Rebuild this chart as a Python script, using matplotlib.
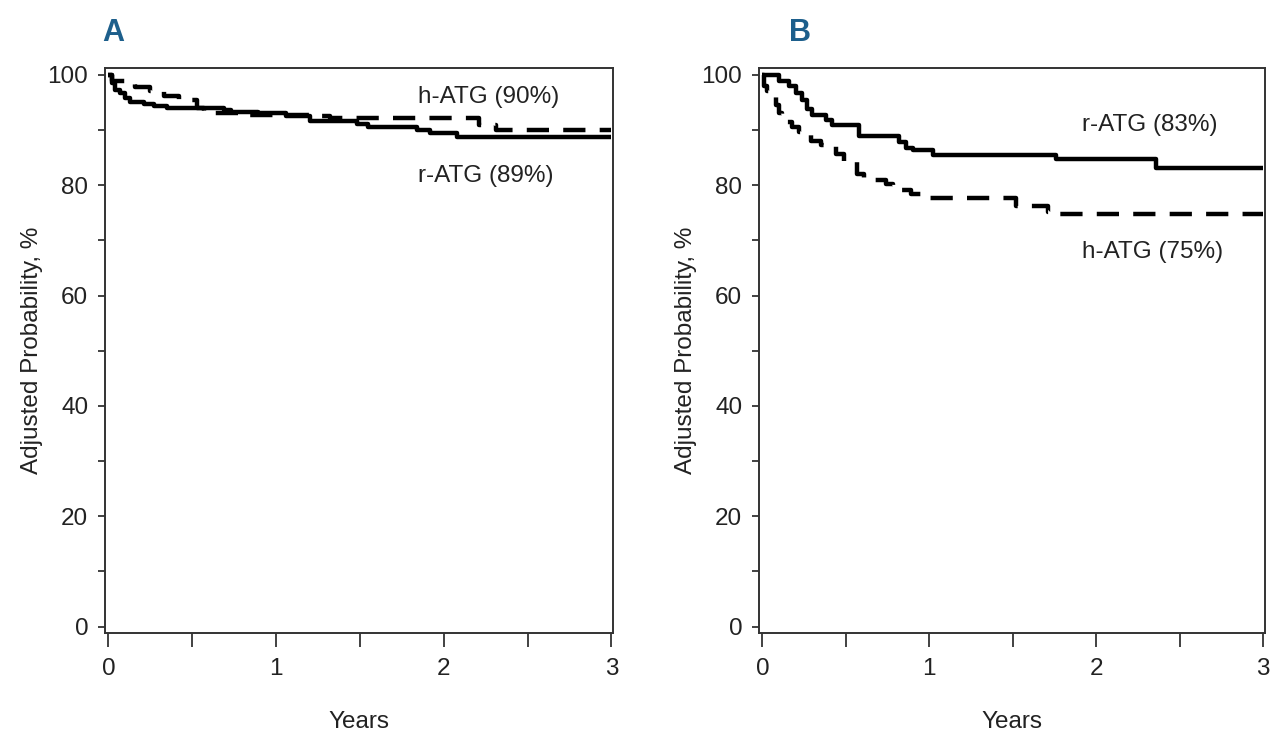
import numpy as np
import matplotlib
matplotlib.use("Agg")
import matplotlib.pyplot as plt
from matplotlib.ticker import MultipleLocator

plt.rcParams['font.family'] = ['Liberation Sans', 'DejaVu Sans']

# panel A (step levels: value holds from each time on)
rA_t = [0, 0.02, 0.04, 0.07, 0.10, 0.13, 0.21, 0.27, 0.35, 0.69, 0.73, 0.89, 1.06, 1.20, 1.48, 1.55, 1.84, 1.92, 2.08, 3.0]
rA_s = [100, 98.5, 97.3, 96.7, 95.8, 95.0, 94.7, 94.4, 94.0, 93.7, 93.2, 93.1, 92.5, 91.6, 91.1, 90.6, 90.0, 89.5, 88.8, 88.8]
hA_t = [0, 0.02, 0.10, 0.16, 0.25, 0.33, 0.42, 0.53, 0.57, 0.80, 1.20, 1.32, 2.21, 2.31, 3.0]
hA_s = [100, 98.8, 98.3, 97.8, 97.0, 96.1, 95.5, 94.0, 93.0, 92.8, 92.5, 92.2, 90.9, 90.0, 90.0]

# panel B
rB_t = [0, 0.10, 0.16, 0.20, 0.24, 0.27, 0.30, 0.38, 0.42, 0.58, 0.82, 0.86, 0.90, 1.02, 1.76, 2.36, 3.0]
rB_s = [100, 98.8, 97.9, 96.7, 95.5, 93.9, 92.7, 91.8, 90.9, 88.9, 87.9, 86.8, 86.4, 85.5, 84.7, 83.2, 83.2]
hB_t = [0, 0.01, 0.03, 0.05, 0.08, 0.10, 0.12, 0.18, 0.22, 0.29, 0.35, 0.44, 0.49, 0.57, 0.61, 0.74, 0.78, 0.89, 0.95, 1.52, 1.71, 1.77, 3.0]
hB_s = [100, 98.0, 97.0, 96.0, 94.5, 93.0, 91.5, 90.5, 89.7, 88.0, 87.2, 85.6, 84.2, 82.0, 81.0, 80.2, 79.2, 78.4, 77.7, 76.3, 75.2, 74.7, 74.7]

panels = [
    ("A", -0.005, rA_t, rA_s, hA_t, hA_s,
     [("h-ATG (90%)", 1.845, 96.0), ("r-ATG (89%)", 1.845, 81.7)]),
    ("B", 0.06, rB_t, rB_s, hB_t, hB_s,
     [("r-ATG (83%)", 1.918, 90.9), ("h-ATG (75%)", 1.918, 67.9)]),
]
boxes = [[0.082, 0.149, 0.397, 0.760], [0.593, 0.149, 0.395, 0.760]]

fig = plt.figure(figsize=(12.8, 7.44), dpi=100)
txt = '#222222'
fs = 17.5

for (letter, lx, rt, rs, ht, hs, notes), box in zip(panels, boxes):
    ax = fig.add_axes(box)
    ax.plot(rt, rs, drawstyle='steps-post', color='black', lw=3.2, solid_capstyle='butt')
    ax.plot(ht, hs, drawstyle='steps-post', color='black', lw=3.2, dashes=(5.0, 3.2))
    ax.set_xlim(-0.02, 3.01)
    ax.set_ylim(-1.2, 101.3)
    ax.xaxis.set_major_locator(MultipleLocator(1))
    ax.xaxis.set_minor_locator(MultipleLocator(0.5))
    ax.yaxis.set_major_locator(MultipleLocator(20))
    ax.yaxis.set_minor_locator(MultipleLocator(10))
    ax.tick_params(axis='x', which='both', length=10, width=1.3, color='#333333',
                   labelsize=fs, labelcolor=txt, pad=8)
    ax.tick_params(axis='y', which='both', length=5, width=1.3, color='#333333',
                   labelsize=fs, labelcolor=txt, pad=7)
    for sp in ax.spines.values():
        sp.set_linewidth(1.4)
        sp.set_color('#333333')
    ax.set_xlabel('Years', fontsize=fs, color=txt, labelpad=22)
    ax.set_ylabel('Adjusted Probability, %', fontsize=fs, color=txt, labelpad=3)
    for s, x, y in notes:
        ax.text(x, y, s, fontsize=fs, color=txt, ha='left', va='center')
    ax.text(lx, 1.035, letter, transform=ax.transAxes, fontsize=22, fontweight='bold',
            color='#1d5f8c', family=['Liberation Sans Narrow', 'Liberation Sans'],
            ha='left', va='bottom')

fig.savefig('out.png', dpi=100)
